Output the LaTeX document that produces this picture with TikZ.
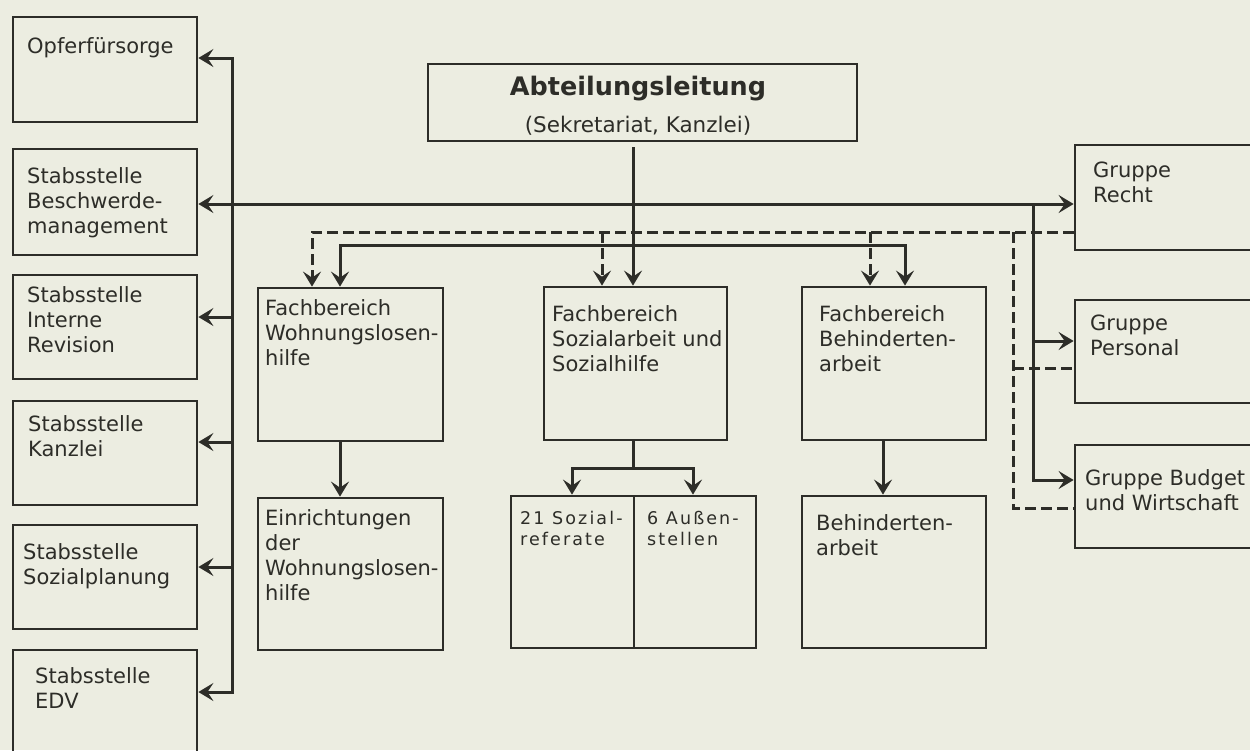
\documentclass[tikz,border=0pt]{standalone}
\usepackage{fontspec}
\setmainfont{DejaVu Sans}
\newfontfamily\spaced[LetterSpace=12]{DejaVu Sans}
\usetikzlibrary{arrows.meta,fit}
\definecolor{paper}{RGB}{236,237,225}
\definecolor{ink}{RGB}{45,45,40}
\begin{document}
\begin{tikzpicture}[x=1pt,y=-1pt,
  box/.style={draw=ink, line width=2.8pt, inner sep=0pt, fit={#1}},
  txt/.style={inner sep=0pt, anchor=north west, align=left, text=ink,
    font=\fontsize{21}{25}\selectfont, execute at begin node=\strut},
  smalltxt/.style={inner sep=0pt, anchor=north west, align=left, text=ink,
    font=\spaced\fontsize{17.5}{21}\selectfont, execute at begin node=\strut},
  conn/.style={draw=ink, line width=3pt},
  dconn/.style={conn, dash pattern=on 11pt off 5pt},
  arr/.style={-{Stealth[length=15pt,width=18pt,inset=6pt]}},
  arrs/.style={{Stealth[length=15pt,width=18pt,inset=6pt]}-{Stealth[length=15pt,width=18pt,inset=6pt]}}
]
\useasboundingbox (0,0) rectangle (1250,750);
\fill[paper] (0,0) rectangle (1250,750);
\clip (0,0) rectangle (1250,750);

% left column
\node[box={(13,17) (197,122)}] (opfer) {};
\node[box={(13,149) (197,255)}] (besch) {};
\node[box={(13,275) (197,379)}] (rev) {};
\node[box={(13,401) (197,505)}] (kanz) {};
\node[box={(13,525) (197,629)}] (sozp) {};
\node[box={(13,650) (197,770)}] (edv) {};
\node[txt] (opfer-t) at (27,35.5) {Opferfürsorge};
\node[txt] (besch-t) at (27,167.5) {Stabsstelle\\Beschwerde-\\management};
\node[txt] (rev-t) at (27,286.5) {Stabsstelle\\Interne\\Revision};
\node[txt] (kanz-t) at (28,415.5) {Stabsstelle\\Kanzlei};
\node[txt] (sozp-t) at (23,543.5) {Stabsstelle\\Sozialplanung};
\node[txt] (edv-t) at (35,667.5) {Stabsstelle\\EDV};

% head
\node[box={(428,64) (857,141)}] (abt) {};
\node[anchor=base, inner sep=0pt, text=ink, font=\bfseries\fontsize{25.5}{30}\selectfont] (abt-t1) at (638,95) {Abteilungsleitung};
\node[anchor=base, inner sep=0pt, text=ink, font=\fontsize{21.5}{25}\selectfont] (abt-t2) at (638,132) {(Sekretariat, Kanzlei)};

% Fachbereiche
\node[box={(258,288) (443,441)}] (wfb) {};
\node[box={(544,287) (727,440)}] (sozfb) {};
\node[box={(802,287) (986,440)}] (behfb) {};
\node[txt] (wfb-t) at (265,299.5) {Fachbereich\\Wohnungslosen-\\hilfe};
\node[txt] (sozfb-t) at (552,305.5) {Fachbereich\\Sozialarbeit und\\Sozialhilfe};
\node[txt] (behfb-t) at (819,305.5) {Fachbereich\\Behinderten-\\arbeit};

% lower row
\node[box={(258,498) (443,650)}] (ein) {};
\node[box={(511,496) (634,648)}] (ref) {};
\node[box={(634,496) (756,648)}] (aus) {};
\node[box={(802,496) (986,648)}] (beh) {};
\node[txt] (ein-t) at (265,509.5) {Einrichtungen\\der\\Wohnungslosen-\\hilfe};
\node[smalltxt] (ref-t) at (520,511.3) {21 Sozial-\\referate};
\node[smalltxt] (aus-t) at (647,511.3) {6 Außen-\\stellen};
\node[txt] (beh-t) at (816,514.5) {Behinderten-\\arbeit};

% right column
\node[box={(1075,145) (1280,250)}] (recht) {};
\node[box={(1075,300) (1280,403)}] (pers) {};
\node[box={(1075,445) (1280,548)}] (budg) {};
\node[txt] (recht-t) at (1093,161.5) {Gruppe\\Recht};
\node[txt] (pers-t) at (1090,314.5) {Gruppe\\Personal};
\node[txt] (budg-t) at (1085,469.5) {Gruppe Budget\\und Wirtschaft};

% coordinates
\coordinate (trunk) at (633,147);
\coordinate (h) at (633,204);
\coordinate (l1) at (232,58);
\coordinate (l2) at (232,317);
\coordinate (l3) at (232,442);
\coordinate (l4) at (232,567);
\coordinate (l6) at (232,692);
\coordinate (d1) at (312,232);
\coordinate (d3) at (602,232);
\coordinate (d4) at (870,232);
\coordinate (d2) at (1013,232);
\coordinate (d5) at (1013,368);
\coordinate (d6) at (1013,508);
\coordinate (s1) at (340,245);
\coordinate (s2) at (905,245);
\coordinate (r1) at (1033,204);
\coordinate (r2) at (1033,341);
\coordinate (r3) at (1033,480);
\coordinate (b0) at (633,468);
\coordinate (b1) at (572,468);
\coordinate (b2) at (693,468);
\coordinate (bh) at (883,468);

% main connectors
\draw[conn, arr] (trunk) -- (trunk |- sozfb.north);
\draw[conn, arrs] (h -| besch.east) -- (h -| recht.west);
\draw[conn, arrs] (l1 -| opfer.east) -- (l1) -- (l6) -- (l6 -| edv.east);
\draw[conn, arr] (l2) -- (l2 -| rev.east);
\draw[conn, arr] (l3) -- (l3 -| kanz.east);
\draw[conn, arr] (l4) -- (l4 -| sozp.east);

% solid distribution line
\draw[conn, arrs] (s1 |- wfb.north) -- (s1) -- (s2) -- (s2 |- behfb.north);

% dashed lines
\draw[dconn, arr] (d2 -| recht.west) -- (d1) -- (d1 |- wfb.north);
\draw[dconn, arr] (d3) -- (d3 |- sozfb.north);
\draw[dconn, arr] (d4) -- (d4 |- behfb.north);
\draw[dconn] (d2) -- (d6) -- (d6 -| budg.west);
\draw[dconn] (d5) -- (d5 -| pers.west);

% right solid
\draw[conn, arr] (r1) -- (r3) -- (r3 -| budg.west);
\draw[conn, arr] (r2) -- (r2 -| pers.west);

% lower connectors
\draw[conn, arr] (s1 |- wfb.south) -- (s1 |- ein.north);
\draw[conn] (b0 |- sozfb.south) -- (b0);
\draw[conn, arrs] (b1 |- ref.north) -- (b1) -- (b2) -- (b2 |- aus.north);
\draw[conn, arr] (bh |- behfb.south) -- (bh |- beh.north);
\end{tikzpicture}
\end{document}
